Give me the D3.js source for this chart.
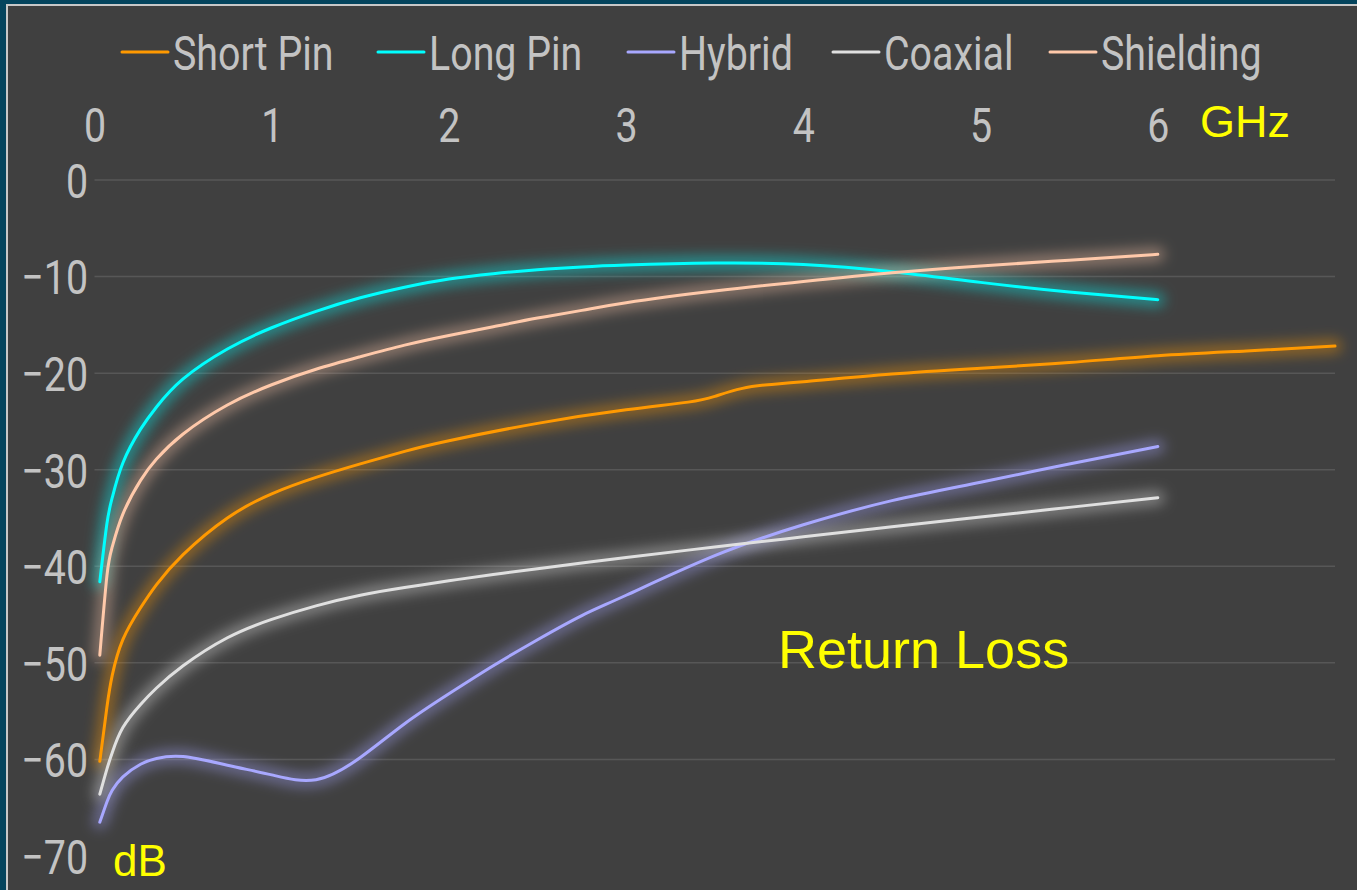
<!DOCTYPE html>
<html>
<head>
<meta charset="utf-8">
<script src="https://cdn.jsdelivr.net/npm/d3@7"></script>
<style>
  html, body { margin: 0; padding: 0; background: #04445d; }
  svg { display: block; }
</style>
</head>
<body>
<svg id="chart" width="1357" height="890"></svg>
<script>
// Return loss (dB) versus frequency (GHz) for five connector variants
const seriesNames = ["Short Pin", "Long Pin", "Hybrid", "Coaxial", "Shielding"];
const seriesColors = ["#ff9900", "#00ffff", "#a8a8ff", "#e0e0e0", "#ffc9aa"];

const freqGHz   = [0.03, 0.07, 0.1, 0.16, 0.26, 0.35, 0.5, 0.75, 1.0, 1.25, 1.5, 1.75, 2.0, 2.25, 2.5, 2.75, 3.0, 3.5, 4.0, 4.5, 5.0, 5.5, 6.0];
const longPin   = [-41.6, -35.6, -32.9, -29.3, -25.8, -23.5, -20.6, -17.5, -15.3, -13.6, -12.2, -11.1, -10.25, -9.7, -9.3, -9.0, -8.8, -8.6, -8.75, -9.5, -10.6, -11.6, -12.4];
const hybrid    = [-66.5, -64.4, -63.2, -61.8, -60.5, -59.9, -59.7, -60.6, -61.6, -62.1, -59.8, -56.3, -53.2, -50.3, -47.6, -45.1, -43.0, -38.9, -35.7, -33.2, -31.3, -29.4, -27.6];
const coaxial   = [-63.6, -61.0, -59.3, -56.7, -54.3, -52.6, -50.3, -47.4, -45.5, -44.1, -43.0, -42.2, -41.5, -40.85, -40.25, -39.65, -39.1, -38.0, -36.95, -35.9, -34.9, -33.9, -32.9];
const shielding = [-49.2, -41.0, -38.0, -34.6, -31.1, -28.9, -26.3, -23.3, -21.2, -19.6, -18.3, -17.1, -16.1, -15.2, -14.3, -13.5, -12.7, -11.5, -10.5, -9.6, -8.9, -8.3, -7.7];

// Short Pin was measured on its own sweep up to 7 GHz
const shortPinFreq = [0.03, 0.07, 0.1, 0.16, 0.26, 0.35, 0.5, 0.75, 1.0, 1.25, 1.5, 1.75, 2.0, 2.5, 3.0, 3.35, 3.5, 3.65, 3.8, 4.0, 4.5, 5.0, 5.5, 6.0, 6.5, 7.0];
const shortPin     = [-60.2, -54.6, -51.3, -47.6, -44.3, -41.9, -38.8, -35.0, -32.5, -30.8, -29.4, -28.1, -27.0, -25.2, -23.8, -23.0, -22.4, -21.6, -21.2, -20.9, -20.1, -19.5, -18.9, -18.2, -17.7, -17.2];

const xTicks = [0, 1, 2, 3, 4, 5, 6];
const yTicks = [0, -10, -20, -30, -40, -50, -60, -70];
const gridTicks = [0, -10, -20, -30, -40, -50, -60];

const series = [
  { name: seriesNames[0], color: seriesColors[0], f: shortPinFreq, v: shortPin },
  { name: seriesNames[1], color: seriesColors[1], f: freqGHz, v: longPin },
  { name: seriesNames[2], color: seriesColors[2], f: freqGHz, v: hybrid },
  { name: seriesNames[3], color: seriesColors[3], f: freqGHz, v: coaxial },
  { name: seriesNames[4], color: seriesColors[4], f: freqGHz, v: shielding }
];

const svg = d3.select("#chart");
const W = 1357, H = 890;
const labelFont = "Roboto, 'Liberation Sans', sans-serif";
const sans = "'Liberation Sans', Arial, sans-serif";
const textGray = "#c3c3c3";
const squeeze = "scale(0.82,1)";   // condensed look for labels

// Frame
svg.append("rect").attr("width", W).attr("height", H).attr("fill", "#04445d");
svg.append("rect").attr("x", 7).attr("y", 5).attr("width", W + 10).attr("height", H + 10)
  .attr("fill", "#404040").attr("stroke", "#c8c8c8").attr("stroke-width", 2);

const x = d3.scaleLinear().domain([0, 7]).range([94.5, 1335]);
const y = d3.scaleLinear().domain([0, -70]).range([180, 856]);

// Glow filter
const defs = svg.append("defs");
defs.append("filter").attr("id", "glow")
  .attr("x", "-20%").attr("y", "-20%").attr("width", "140%").attr("height", "140%")
  .append("feGaussianBlur").attr("stdDeviation", 6.5);

// Horizontal gridlines
svg.append("g").selectAll("line").data(gridTicks).join("line")
  .attr("x1", x(0)).attr("x2", x(7))
  .attr("y1", d => y(d)).attr("y2", d => y(d))
  .attr("stroke", "#575757").attr("stroke-width", 1.5);

// Top frequency axis (labels only)
const xAxis = d3.axisTop(x).tickValues(xTicks).tickSize(0).tickPadding(0).tickFormat(d3.format("d"));
const gx = svg.append("g").attr("transform", "translate(0,142)").call(xAxis);
gx.select(".domain").remove();
gx.selectAll("text").attr("fill", textGray).attr("font-family", labelFont).attr("font-weight", 400)
  .attr("font-size", 48).attr("dy", 0).attr("transform", squeeze);

// Left dB axis (labels only)
const yAxis = d3.axisLeft(y).tickValues(yTicks).tickSize(0).tickPadding(0)
  .tickFormat(d => d3.format("d")(d).replace("-", "\u2212"));
const gy = svg.append("g").attr("transform", "translate(88,0)").call(yAxis);
gy.select(".domain").remove();
gy.selectAll("text").attr("fill", textGray).attr("font-family", labelFont).attr("font-weight", 400)
  .attr("font-size", 48).attr("dy", "0.36em").attr("transform", squeeze);

// Curves: soft glow underneath, crisp line on top
const line = d3.line().x(d => x(d[0])).y(d => y(d[1])).curve(d3.curveNatural);
const gLines = svg.append("g");
series.forEach(s => {
  const pts = s.f.map((f, i) => [f, s.v[i]]);
  gLines.append("path").attr("d", line(pts)).attr("fill", "none")
    .attr("stroke", s.color).attr("stroke-width", 14).attr("stroke-opacity", 0.42)
    .attr("stroke-linecap", "round").attr("filter", "url(#glow)");
});
series.forEach(s => {
  const pts = s.f.map((f, i) => [f, s.v[i]]);
  gLines.append("path").attr("d", line(pts)).attr("fill", "none")
    .attr("stroke", s.color).attr("stroke-width", 3)
    .attr("stroke-linecap", "round").attr("stroke-linejoin", "round");
});

// Legend
const legendX = [122, 378, 628, 833, 1050];
const leg = svg.append("g").selectAll("g").data(series).join("g")
  .attr("transform", (d, i) => `translate(${legendX[i]},52)`);
leg.append("line").attr("x1", 0).attr("x2", 46).attr("y1", 0).attr("y2", 0)
  .attr("stroke", d => d.color).attr("stroke-width", 3).attr("stroke-linecap", "round");
leg.append("text").attr("transform", "translate(51,18) " + squeeze).text(d => d.name)
  .attr("fill", textGray).attr("font-family", labelFont).attr("font-weight", 400).attr("font-size", 48);

// Unit and title annotations
svg.append("text").attr("x", 1200).attr("y", 137).text("GHz")
  .attr("fill", "#ffff00").attr("font-family", sans).attr("font-size", 45);
svg.append("text").attr("x", 113).attr("y", 876).text("dB")
  .attr("fill", "#ffff00").attr("font-family", sans).attr("font-size", 44);
svg.append("text").attr("x", 778).attr("y", 668).text("Return Loss")
  .attr("fill", "#ffff00").attr("font-family", sans).attr("font-size", 54);
</script>
</body>
</html>
